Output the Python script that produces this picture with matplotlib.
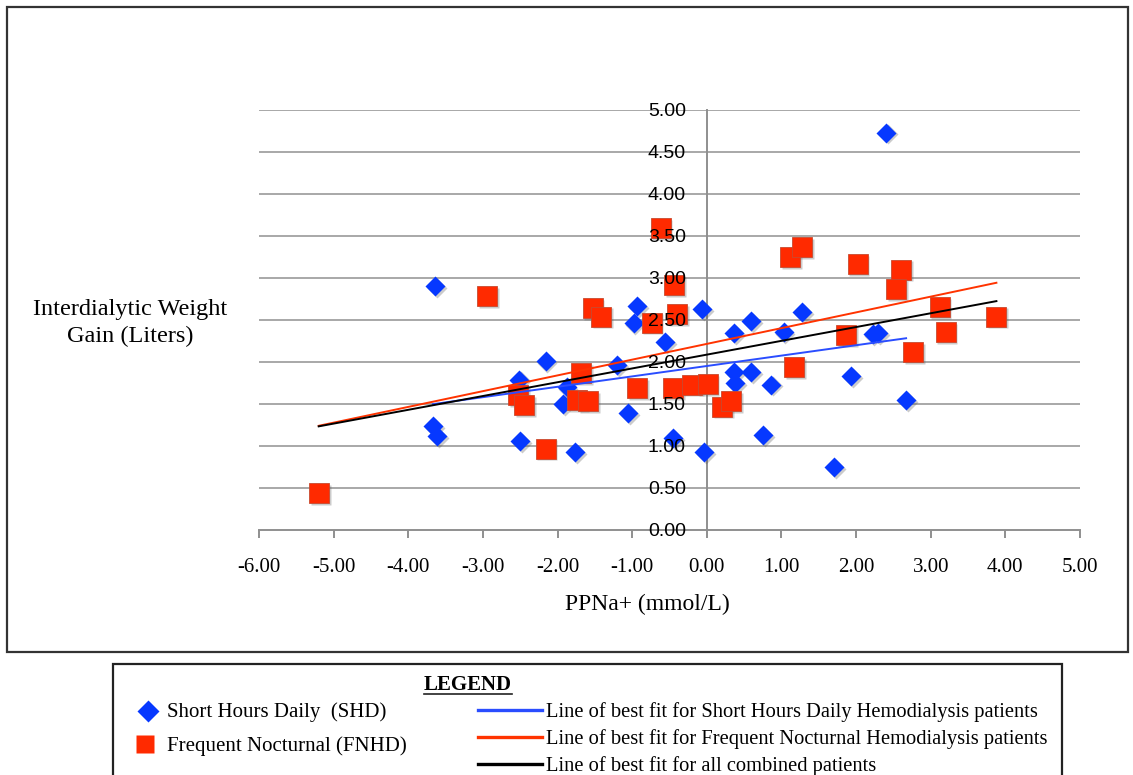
import numpy as np
import matplotlib.pyplot as plt
from matplotlib import transforms
from matplotlib.lines import Line2D
from matplotlib.patches import Rectangle

plt.rcParams['axes.unicode_minus'] = False

# Short hours daily hemodialysis: PPNa+ (mmol/L) vs interdialytic weight gain (L)
shd_ppna = [-3.64, -3.67, -3.61, -2.50, -2.52, -2.16, -1.77, -1.93, -1.88, -1.20,
            -1.05, -0.93, -0.98, -0.56, -0.45, -0.06, -0.04, 0.37, 0.59, 0.37,
            0.38, 0.59, 0.86, 0.75, 1.03, 1.28, 1.93, 1.71, 2.22, 2.29, 2.67, 2.40]
shd_idwg = [2.90, 1.24, 1.12, 1.06, 1.79, 2.01, 0.93, 1.50, 1.70, 1.96,
            1.39, 2.67, 2.46, 2.24, 1.09, 2.63, 0.93, 2.34, 2.49, 1.88,
            1.75, 1.88, 1.73, 1.13, 2.36, 2.59, 1.83, 0.75, 2.33, 2.34, 1.55, 4.73]

# Frequent nocturnal hemodialysis
fnhd_ppna = [-5.20, -2.94, -2.53, -2.45, -2.16, -1.53, -1.42, -1.68, -1.74, -1.59,
             -0.93, -0.62, -0.44, -0.74, -0.40, -0.45, -0.20, 0.01, 0.21, 0.32,
             1.12, 1.28, 2.02, 2.60, 2.54, 1.17, 1.87, 2.76, 3.12, 3.20, 3.88]
fnhd_idwg = [0.44, 2.78, 1.61, 1.49, 0.97, 2.64, 2.54, 1.87, 1.55, 1.53,
             1.69, 3.59, 2.92, 2.47, 2.57, 1.69, 1.73, 1.74, 1.47, 1.53,
             3.25, 3.37, 3.17, 3.10, 2.87, 1.94, 2.32, 2.12, 2.65, 2.36, 2.54]

x_ticks = np.arange(-6, 6)
y_ticks = np.arange(0, 5.01, 0.5)

marker_labels = ['Short Hours Daily  (SHD)', 'Frequent Nocturnal (FNHD)']
line_labels = ['Line of best fit for Short Hours Daily Hemodialysis patients',
               'Line of best fit for Frequent Nocturnal Hemodialysis patients',
               'Line of best fit for all combined patients']

BLUE = '#0638ff'
RED = '#ff2a00'
BLUE_LINE = '#2a4dff'
RED_LINE = '#ff3300'
SERIF = 'Liberation Serif'
SANS = 'Liberation Sans'

W, H = 1133, 775


def fx(px):
    return px / W


def fy(py):
    return 1 - py / H


fig = plt.figure(figsize=(W / 100, H / 100), dpi=100)
ax = fig.add_axes([fx(259), fy(530), (1080 - 259) / W, (530 - 110) / H])

# horizontal grid drawn by hand so the tick labels can sit above the markers
for yv in y_ticks[1:]:
    ax.axhline(yv, color='#a8a8a8', lw=1.4, zorder=0.5)

# soft drop shadow under the markers
shadow = transforms.offset_copy(ax.transData, fig=fig, x=1.8, y=-1.8, units='dots')
ax.plot(shd_ppna, shd_idwg, 'D', ms=10.5, color='#555555', alpha=0.3, mec='none',
        transform=shadow, zorder=3)
ax.plot(fnhd_ppna, fnhd_idwg, 's', ms=14, color='#555555', alpha=0.3, mec='none',
        transform=shadow, zorder=3)
ax.plot(shd_ppna, shd_idwg, 'D', ms=10.5, color=BLUE, mec='none', zorder=4)
ax.plot(fnhd_ppna, fnhd_idwg, 's', ms=14, color=RED, mec='#c84a30', mew=0.6, zorder=4)

# least squares lines
all_ppna = np.array(shd_ppna + fnhd_ppna)
all_idwg = np.array(shd_idwg + fnhd_idwg)
for xs, ys, c in [(shd_ppna, shd_idwg, BLUE_LINE),
                  (fnhd_ppna, fnhd_idwg, RED_LINE),
                  (all_ppna, all_idwg, 'black')]:
    xs = np.asarray(xs)
    slope, icpt = np.polyfit(xs, ys, 1)
    xr = np.array([xs.min(), xs.max()])
    ax.plot(xr, slope * xr + icpt, color=c, lw=1.4, zorder=5)

ax.set_xlim(-6, 5)
ax.set_ylim(0, 5)

for s in ['top', 'right']:
    ax.spines[s].set_visible(False)
ax.spines['left'].set_position(('data', 0))
ax.spines['bottom'].set_position(('data', 0))
for s in ['left', 'bottom']:
    ax.spines[s].set_color('#8f8f8f')
    ax.spines[s].set_linewidth(1.4)
    ax.spines[s].set_zorder(1)

ax.tick_params(axis='x', direction='out', length=6, width=1.4, color='#8f8f8f', pad=14,
               labelsize=15)
ax.tick_params(axis='y', length=0, pad=15, labelsize=14)

ax.set_xticks(x_ticks)
ax.set_yticks(y_ticks)
ax.set_xticklabels(['%.2f' % v for v in x_ticks])
ax.set_yticklabels(['%.2f' % v for v in y_ticks])
for lbl in ax.get_xticklabels():
    lbl.set_fontfamily(SERIF)
    lbl.set_fontsize(15)
for lbl in ax.get_yticklabels():
    lbl.set_fontfamily(SANS)
    lbl.set_fontsize(14)
ax.xaxis.set_zorder(1)
ax.yaxis.set_zorder(6)
ax.patch.set_visible(False)

fig.text(fx(130), fy(323), 'Interdialytic Weight\nGain (Liters)', ha='center', va='center',
         fontfamily=SERIF, fontsize=17.5, linespacing=1.35)
fig.text(fx(647), fy(604), 'PPNa+ (mmol/L)', ha='center', va='center',
         fontfamily=SERIF, fontsize=17)

# outer chart frame
fig.patches.append(Rectangle((fx(7), fy(652)), fx(1128) - fx(7), fy(7) - fy(652),
                             transform=fig.transFigure, fill=False, ec='#333333', lw=1.6))

# legend box (runs off the bottom edge)
fig.patches.append(Rectangle((fx(113), fy(800)), fx(1062) - fx(113), fy(664) - fy(800),
                             transform=fig.transFigure, fill=False, ec='#222222', lw=1.6))

fig.text(fx(468), fy(685), 'LEGEND', ha='center', va='center', fontfamily=SERIF,
         fontweight='bold', fontsize=15)
fig.add_artist(Line2D([fx(424), fx(512)], [fy(694), fy(694)], color='#222222', lw=1.2,
                      transform=fig.transFigure))

fig.add_artist(Line2D([fx(148)], [fy(711)], marker='D', ms=11.5, color=BLUE, mec='none',
                      transform=fig.transFigure))
fig.add_artist(Line2D([fx(145)], [fy(744)], marker='s', ms=13.5, color=RED, mec='none',
                      transform=fig.transFigure))
for lbl, py in zip(marker_labels, [712, 746]):
    fig.text(fx(167), fy(py), lbl, ha='left', va='center', fontfamily=SERIF, fontsize=15)

for lbl, py, c in zip(line_labels, [710, 737, 764], [BLUE_LINE, RED_LINE, 'black']):
    fig.add_artist(Line2D([fx(478), fx(542)], [fy(py), fy(py)], color=c, lw=2.4,
                          transform=fig.transFigure))
    fig.text(fx(546), fy(py + 2), lbl, ha='left', va='center', fontfamily=SERIF,
             fontsize=14.8)

fig.savefig('out.png', dpi=100)
